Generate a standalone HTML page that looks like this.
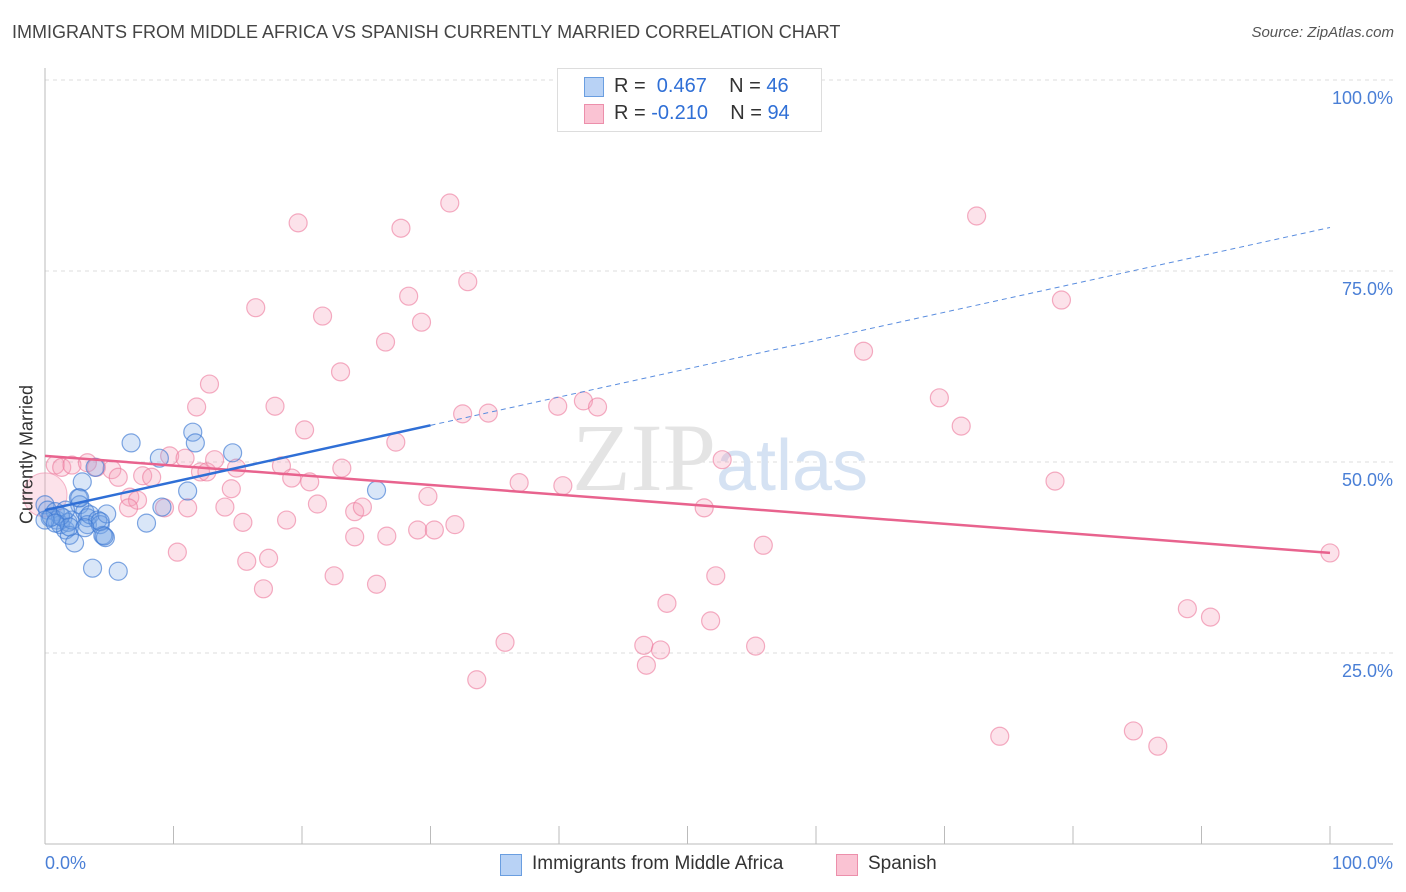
<!DOCTYPE html>
<html><head><meta charset="utf-8">
<style>
body{margin:0;background:#fff;font-family:"Liberation Sans",sans-serif;}
#c{position:relative;width:1406px;height:892px;overflow:hidden;}
.t{position:absolute;white-space:nowrap;}
</style></head>
<body><div id="c">
<div class="t" style="left:12px;top:22px;font-size:18px;color:#444;">IMMIGRANTS FROM MIDDLE AFRICA VS SPANISH CURRENTLY MARRIED CORRELATION CHART</div>
<div class="t" style="right:12px;top:24px;font-size:15px;color:#555;font-style:italic;">Source: ZipAtlas.com</div>
<svg id="s" width="1406" height="892" style="position:absolute;left:0;top:0"></svg>
</div>
<script>
const blueX=[0,0.2,0.4,0.8,0.9,1.2,1.4,1.6,1.8,1.9,2.1,2.3,2.6,2.7,2.9,3.1,3.3,3.3,3.5,3.7,3.9,4.1,4.3,4.5,4.7,4.8,5.7,6.7,7.9,8.9,9.1,11.1,11.5,11.7,14.6,25.8,2.7,4.3,1.2,0.5,0,1.9,3.1,4.6,1.6,0.8];
const blueY=[44.4,43.7,42.7,43.5,42.4,41.8,42.7,41.1,42.1,40.4,42.4,39.4,45.3,44.4,47.4,43.5,42.7,41.8,43.1,36.1,49.3,42.4,41.8,40.4,40.1,43.2,35.7,52.5,42.0,50.5,44.1,46.2,53.9,52.5,51.2,46.3,45.3,42.2,42.9,42.8,42.4,41.5,41.4,40.3,43.7,42.0];
const pinkX=[0.8,1.3,2.1,3.3,4.0,5.2,5.7,6.6,7.2,6.5,7.6,8.3,9.3,9.7,10.3,10.9,11.1,11.8,12.1,12.6,12.8,13.2,14.0,14.5,14.9,15.4,15.7,16.4,17.0,17.4,17.9,18.4,18.8,19.2,19.7,20.2,20.6,21.2,21.6,22.5,23.0,23.1,24.1,24.1,24.7,25.8,26.5,26.6,27.3,27.7,28.3,29.0,29.3,29.8,30.3,31.5,31.9,32.5,32.9,34.5,35.8,36.9,33.6,39.9,40.3,41.9,43.0,46.6,46.8,47.9,48.4,51.3,51.8,52.2,52.7,55.3,55.9,63.7,69.6,71.3,72.5,74.3,78.6,79.1,84.7,86.6,88.9,90.7,100];
const pinkY=[49.6,49.3,49.6,49.9,49.3,49.0,48.0,45.4,45.0,44.0,48.2,48.0,44.0,50.8,38.2,50.5,44.0,57.2,48.7,48.7,60.2,50.3,44.1,46.5,49.2,42.1,37.0,70.2,33.4,37.4,57.3,49.5,42.4,47.9,81.3,54.2,47.4,44.5,69.1,35.1,61.8,49.2,43.5,40.2,44.1,34.0,65.7,40.3,52.6,80.6,71.7,41.1,68.3,45.5,41.1,83.9,41.8,56.3,73.6,56.4,26.4,47.3,21.5,57.3,46.9,58.0,57.2,26.0,23.4,25.4,31.5,44.0,29.2,35.1,50.3,25.9,39.1,64.5,58.4,54.7,82.2,14.1,47.5,71.2,14.8,12.8,30.8,29.7,38.1];
const bigPink=[0,45.7];
const blueTrend=[43.7,0.37]; // intercept, slope
const pinkTrend=[50.8,-0.127];
const yTicks=[100,75,50,25];
const yTickLabels=["100.0%","75.0%","50.0%","25.0%"];
const xTicks=[0,10,20,30,40,50,60,70,80,90,100];

const X=v=>45+v*12.85, Y=v=>844-v*7.64;
const s=document.getElementById('s'),NS='http://www.w3.org/2000/svg';
function mk(t,a,p){const e=document.createElementNS(NS,t);for(const k in a)e.setAttribute(k,a[k]);(p||s).appendChild(e);return e;}
yTicks.forEach((v,i)=>{
 const g=mk('line',{x1:45,x2:1393,y1:Y(v),y2:Y(v),stroke:'#ddd','stroke-dasharray':'4,4'});
 
 
 const t=mk('text',{x:1393,y:Y(v)+24,'text-anchor':'end','font-size':18,fill:'#4a7fd6','font-family':'Liberation Sans'});
 t.textContent=yTickLabels[i];
 
 
});
mk('line',{x1:45,x2:45,y1:68,y2:844,stroke:'#bbb'});
mk('line',{x1:45,x2:1393,y1:844,y2:844,stroke:'#bbb'});
xTicks.forEach(v=>{const l=mk('line',{x1:X(v),x2:X(v),y1:826,y2:844,stroke:'#bbb'});
 
 });
const wm=mk('text',{x:720,y:490,'text-anchor':'middle','font-size':96,'font-family':'Liberation Serif',fill:'#e4e4e4'});
wm.innerHTML='ZIP<tspan font-family="Liberation Sans" fill="#d5e2f3" font-size="72">atlas</tspan>';


const bp=mk('circle',{cx:X(bigPink[0]),cy:Y(bigPink[1]),r:22,fill:'rgba(244,160,185,0.3)',stroke:'rgba(236,120,155,0.5)'});


pinkX.forEach((x,i)=>{const c=mk('circle',{cx:X(x),cy:Y(pinkY[i]),r:9,fill:'rgba(244,160,185,0.3)',stroke:'rgba(236,120,155,0.6)','stroke-width':1.2});
 
 });
blueX.forEach((x,i)=>{const c=mk('circle',{cx:X(x),cy:Y(blueY[i]),r:9,fill:'rgba(120,165,230,0.28)',stroke:'rgba(60,120,210,0.65)','stroke-width':1.2});
 
 });
const pl=mk('line',{x1:X(0),y1:Y(pinkTrend[0]),x2:X(100),y2:Y(pinkTrend[0]+100*pinkTrend[1]),stroke:'#e8638e','stroke-width':2.5});


const bl=mk('line',{x1:X(0),y1:Y(blueTrend[0]),x2:X(30),y2:Y(blueTrend[0]+30*blueTrend[1]),stroke:'#2f6fd6','stroke-width':2.5});


const bd=mk('line',{x1:X(30),y1:Y(blueTrend[0]+30*blueTrend[1]),x2:X(100),y2:Y(blueTrend[0]+100*blueTrend[1]),stroke:'#5a8ddf','stroke-width':1,'stroke-dasharray':'5,4'});


</script>
<div class="t" style="left:-50px;top:444px;width:154px;text-align:center;transform:rotate(-90deg);font-size:18px;color:#333;">Currently Married</div>
<div class="t" style="left:45px;top:853px;font-size:18px;color:#4a7fd6;">0.0%</div>
<div class="t" style="right:13px;top:853px;font-size:18px;color:#4a7fd6;">100.0%</div>
<div style="position:absolute;left:557px;top:68px;width:263px;height:62px;border:1px solid #ddd;background:#fff;font-size:20px;">
 <div style="position:absolute;left:26px;top:8px;width:18px;height:18px;background:#b8d2f5;border:1px solid #6a9ee0;"></div>
 <div class="t" style="left:56px;top:6px;color:#333">R = <span style="color:#2f6fd6">&nbsp;0.467</span>&nbsp;&nbsp;&nbsp;&nbsp;N = <span style="color:#2f6fd6">46</span></div>
 <div style="position:absolute;left:26px;top:35px;width:18px;height:18px;background:#fac3d3;border:1px solid #ec8fab;"></div>
 <div class="t" style="left:56px;top:33px;color:#333">R = <span style="color:#2f6fd6">-0.210</span>&nbsp;&nbsp;&nbsp;&nbsp;N = <span style="color:#2f6fd6">94</span></div>
</div>
<div style="position:absolute;left:500px;top:853px;font-size:19px;color:#333;">
 <div style="position:absolute;left:0;top:1px;width:20px;height:20px;background:#b8d2f5;border:1px solid #6a9ee0;"></div>
 <div class="t" style="left:32px;top:0">Immigrants from Middle Africa</div>
 <div style="position:absolute;left:336px;top:1px;width:20px;height:20px;background:#fac3d3;border:1px solid #ec8fab;"></div>
 <div class="t" style="left:368px;top:0">Spanish</div>
</div>
</body></html>
